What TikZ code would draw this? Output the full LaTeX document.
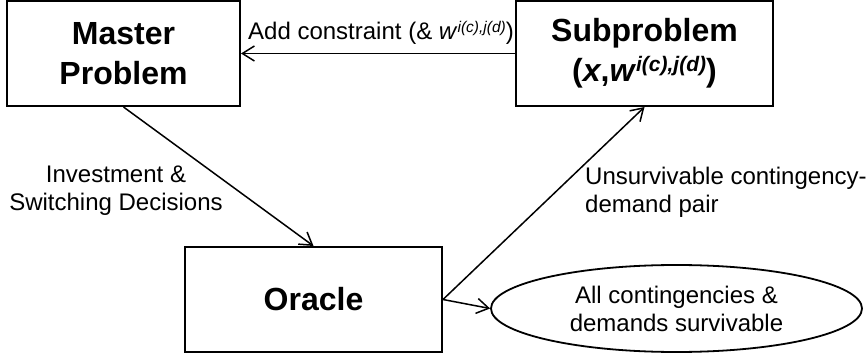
\documentclass[tikz,border=0pt]{standalone}
\usepackage{fontspec}
\setmainfont{Liberation Sans}
\usetikzlibrary{arrows.meta,shapes.geometric}
\newcommand{\supidx}[2]{\raisebox{#1}{\fontsize{#2}{#2}\selectfont\textit{i(c),j(d)}}}
\tikzset{
  box/.style={draw, line width=2pt, inner sep=0pt, minimum width=#1, minimum height=105pt, align=center,
    font=\fontsize{32}{40}\selectfont\bfseries},
  oval/.style={draw, ellipse, line width=1.8pt, inner sep=0pt, minimum width=371pt, minimum height=87pt,
    align=center, font=\fontsize{24}{28}\selectfont},
  lbl/.style={inner sep=0pt, font=\fontsize{24}{28}\selectfont},
  arr/.style={line width=1.5pt, -{Straight Barb[length=12pt,width=15pt,line width=1.5pt]}}
}
\begin{document}
\begin{tikzpicture}[x=1pt,y=-1pt]
\useasboundingbox (0,0) rectangle (867,358);
\node[box=233pt] (master) at (123.5,53.5) {Master\\Problem};
\node[box=257pt] (sub) at (644.5,53.5) {Subproblem\\(\textit{x},\textit{w}\supidx{10pt}{21})};
\node[box=257pt] (oracle) at (313.5,299.5) {Oracle};
\node[oval] (done) at (676.5,308.5) {All contingencies \&\\demands survivable};
\draw[arr] (sub.west) -- (master.east);
\draw[arr] (master.south) -- (oracle.north);
\draw[arr] (oracle.east) -- (sub.south);
\draw[arr] (oracle.east) -- (done.west);
\node[lbl, anchor=base west] (addlbl) at (248,40) {Add constraint (\& \textit{w}\supidx{7pt}{15.5})};
\node[lbl, anchor=base, align=center] (invlbl) at (116,211) {Investment \&\\Switching Decisions};
\node[lbl, anchor=base west, align=left] (unslbl) at (585,212) {Unsurvivable contingency-\\demand pair};
\end{tikzpicture}
\end{document}
